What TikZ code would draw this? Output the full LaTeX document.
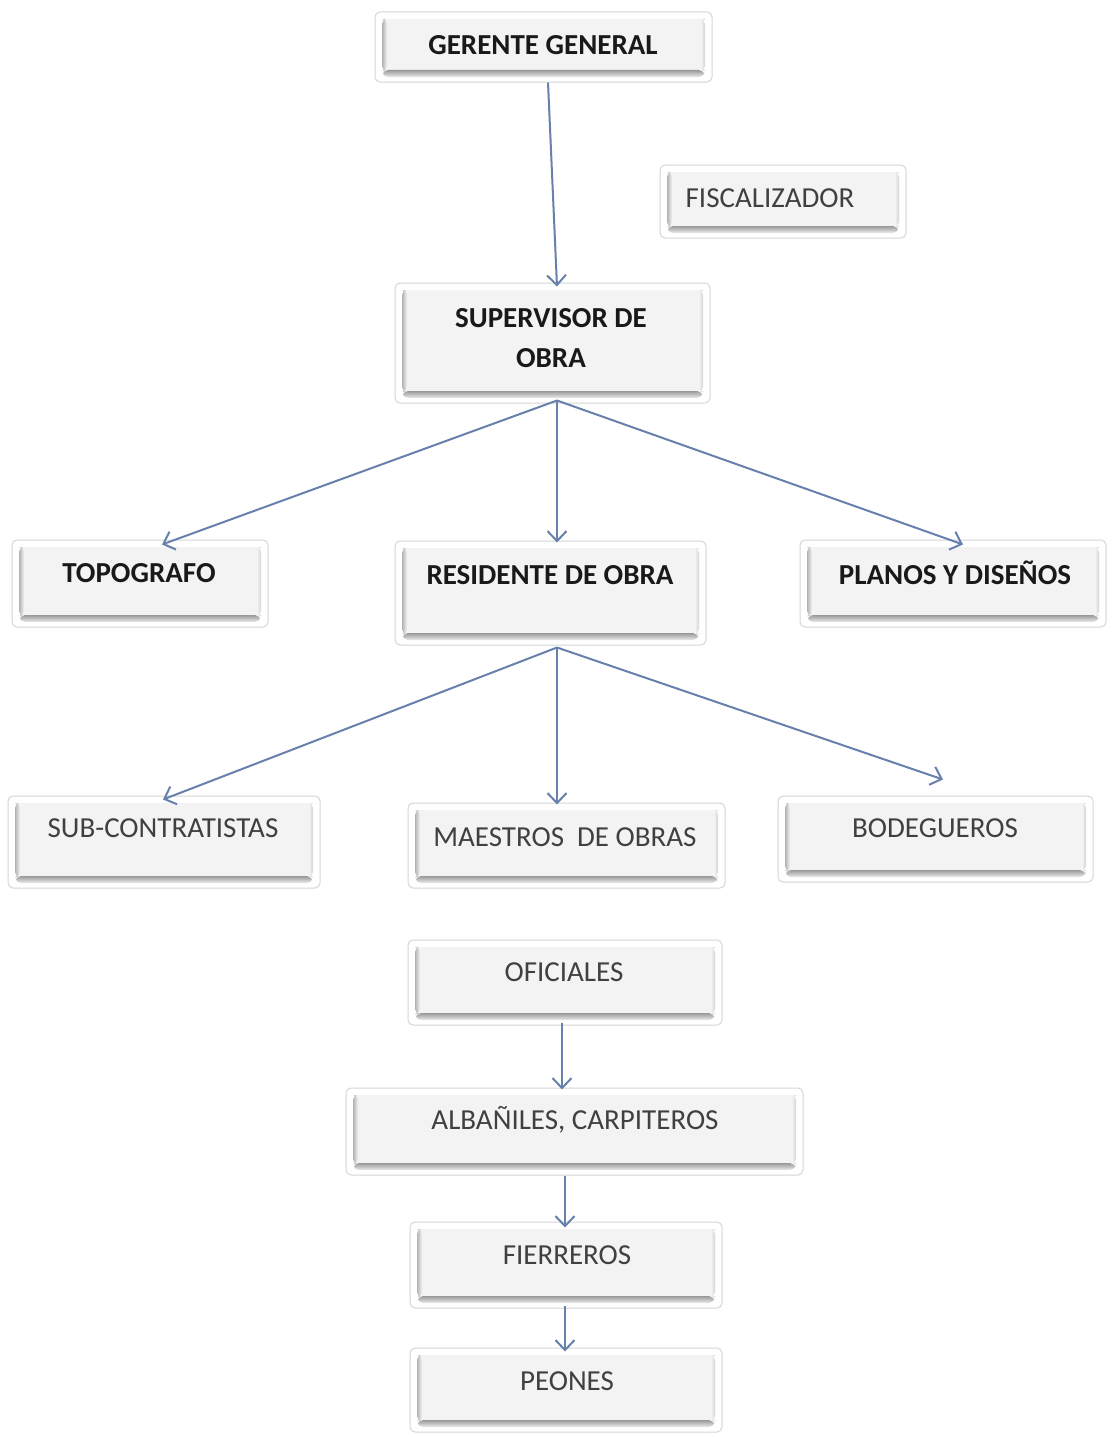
\documentclass[tikz,border=0pt]{standalone}
\usepackage{fontspec}
\setmainfont{Carlito}
\usetikzlibrary{arrows.meta,calc}

\definecolor{linkblue}{RGB}{104,128,172}
\definecolor{facegray}{RGB}{243,243,243}
\definecolor{rimgray}{RGB}{214,214,214}

\tikzset{
  orgbox/.style={draw=rimgray, line width=1pt, fill=white, rounded corners=5pt,
    inner sep=0pt,
    path picture={
      % raised face of the button
      \fill[facegray] ([shift={(8pt,-7pt)}]path picture bounding box.north west)
        rectangle ([shift={(-8pt,11pt)}]path picture bounding box.south east);
      % bottom bevel
      \shade[top color=gray!80, bottom color=gray!15]
        ([shift={(8pt,12pt)}]path picture bounding box.south west)
        rectangle ([shift={(-8pt,5pt)}]path picture bounding box.south east);
      % left bevel
      \shade[left color=gray!60, right color=facegray]
        ([shift={(7pt,-7pt)}]path picture bounding box.north west)
        rectangle ([shift={(12pt,11pt)}]path picture bounding box.south west);
      % right bevel
      \shade[left color=facegray, right color=gray!35]
        ([shift={(-11pt,-7pt)}]path picture bounding box.north east)
        rectangle ([shift={(-7pt,11pt)}]path picture bounding box.south east);
    }},
  boldlabel/.style={font=\fontsize{29}{40}\selectfont\bfseries, text=black!90, align=center, inner sep=0pt},
  plainlabel/.style={font=\fontsize{29}{40}\selectfont, text=black!75, inner sep=0pt},
  link/.style={draw=linkblue, line width=2pt,
    -{Straight Barb[length=10pt,width=19pt,line width=2pt]}},
}

\begin{document}
\begin{tikzpicture}[x=1pt, y=-1pt]
\useasboundingbox[fill=white] (0,0) rectangle (1112,1437);

% boxes
\node[orgbox, minimum width=337pt, minimum height=70pt]  (ger)  at (543.5,47)    {};
\node[orgbox, minimum width=246pt, minimum height=73pt]  (fis)  at (783,201.5)   {};
\node[orgbox, minimum width=315pt, minimum height=120pt] (sup)  at (552.5,343)   {};
\node[orgbox, minimum width=256pt, minimum height=87pt]  (topo) at (140,583.5)   {};
\node[orgbox, minimum width=311pt, minimum height=104pt] (res)  at (550.5,593)   {};
\node[orgbox, minimum width=306pt, minimum height=87pt]  (plan) at (953,583.5)   {};
\node[orgbox, minimum width=312pt, minimum height=92pt]  (sub)  at (164,842)     {};
\node[orgbox, minimum width=317pt, minimum height=85pt]  (mae)  at (566.5,845.5) {};
\node[orgbox, minimum width=315pt, minimum height=86pt]  (bod)  at (935.5,839)   {};
\node[orgbox, minimum width=314pt, minimum height=85pt]  (ofi)  at (565,982.5)   {};
\node[orgbox, minimum width=457pt, minimum height=87pt]  (alb)  at (574.5,1131.5){};
\node[orgbox, minimum width=312pt, minimum height=86pt]  (fie)  at (566,1265)    {};
\node[orgbox, minimum width=312pt, minimum height=84pt]  (peo)  at (566,1390)    {};

% labels
\node[boldlabel]  (gerT)  at (543,45)   {GERENTE GENERAL};
\node[plainlabel] (fisT)  at (770,198)  {FISCALIZADOR};
\node[boldlabel]  (supT)  at (551,338)  {SUPERVISOR DE\\OBRA};
\node[boldlabel]  (topoT) at (139,573)  {TOPOGRAFO};
\node[boldlabel]  (resT)  at (550,575)  {RESIDENTE DE OBRA};
\node[boldlabel]  (planT) at (955,573)  {PLANOS Y DISEÑOS};
\node[plainlabel] (subT)  at (163,828)  {SUB-CONTRATISTAS};
\node[plainlabel] (maeT)  at (565,837)  {MAESTROS\ \ DE OBRAS};
\node[plainlabel] (bodT)  at (935,828)  {BODEGUEROS};
\node[plainlabel] (ofiT)  at (564,972)  {OFICIALES};
\node[plainlabel] (albT)  at (575,1120) {ALBAÑILES, CARPITEROS};
\node[plainlabel] (fieT)  at (567,1255) {FIERREROS};
\node[plainlabel] (peoT)  at (567,1381) {PEONES};

% connectors
\draw[link] ($(ger.south)+(4.5,0)$)  -- ($(sup.north)+(4.5,4)$);
\draw[link] ($(sup.south)+(4.5,-3)$) -- ($(topo.north)+(22,5)$);
\draw[link] ($(sup.south)+(4.5,-3)$) -- ($(res.north)+(6.5,2)$);
\draw[link] ($(sup.south)+(4.5,-3)$) -- ($(plan.north)+(10,5)$);
\draw[link] ($(res.south)+(6.5,2)$)  -- ($(sub.north)+(-1,4)$);
\draw[link] ($(res.south)+(6.5,2)$)  -- ($(mae.north)+(-9.5,2)$);
\draw[link] ($(res.south)+(6.5,2)$)  -- ($(bod.north)+(7.5,-16)$);
\draw[link] ($(ofi.south)+(-3,-3)$)  -- ($(alb.north)+(-12.5,2)$);
\draw[link] ($(alb.south)+(-9.5,0)$) -- ($(fie.north)+(-1,6)$);
\draw[link] ($(fie.south)+(-1,-3)$)  -- ($(peo.north)+(-1,4)$);
\end{tikzpicture}
\end{document}
